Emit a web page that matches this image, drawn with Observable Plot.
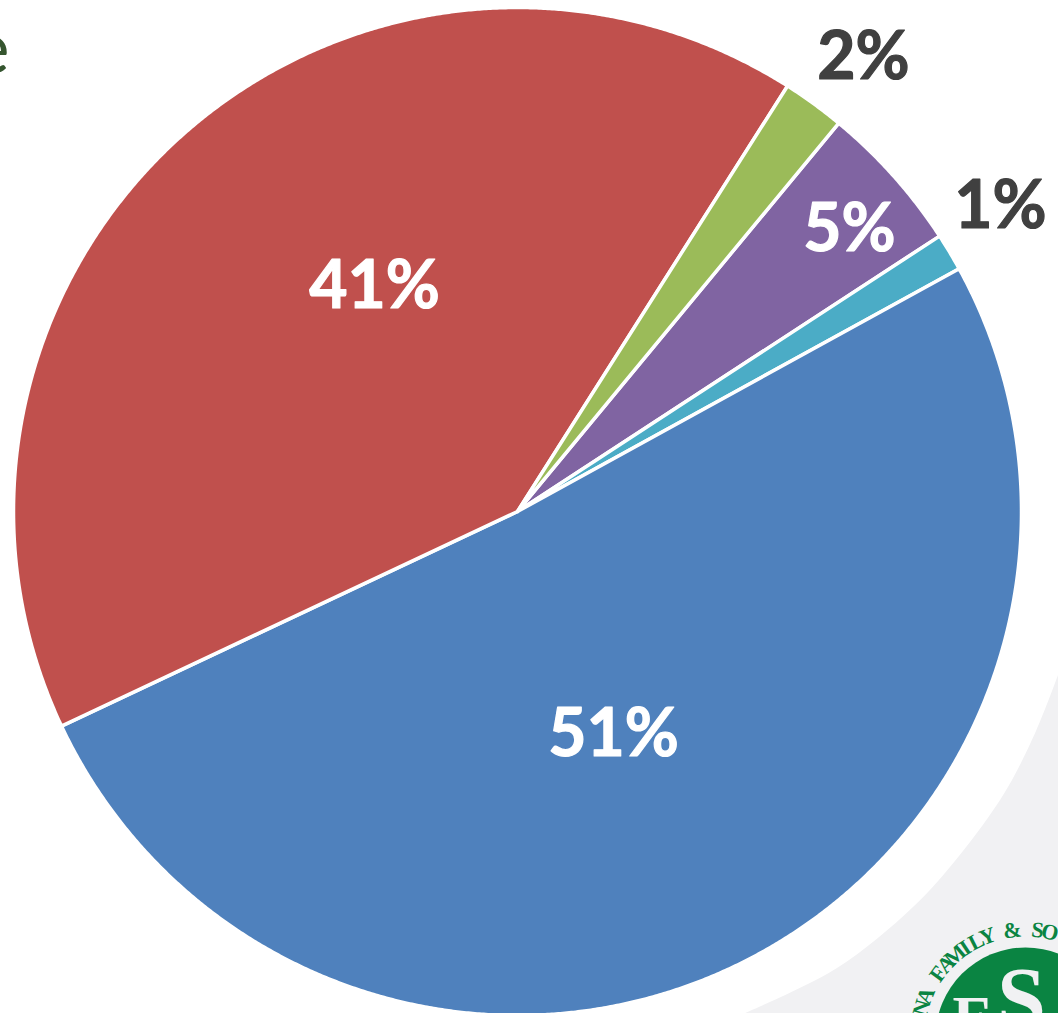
<!DOCTYPE html>
<html><head><meta charset="utf-8">
<script src="https://cdn.jsdelivr.net/npm/d3@7"></script>
<script src="https://cdn.jsdelivr.net/npm/@observablehq/plot@0.6"></script>
<style>html,body{margin:0;padding:0;background:#fff;overflow:hidden}svg{display:block}</style>
</head><body><div id="chart"></div>
<script>
// Data, clockwise from 12 o'clock, starting at the angle
const categories = ["Slice E","Slice F","Slice A","Slice B","Slice C"];
const shares = [4.8, 1.2, 51.0, 41.0, 2.0];
const labels = ["5%","1%","51%","41%","2%"];
const colors = ["#8064a2","#4bacc6","#4f81bd","#c0504d","#9bbb59"];
const startAngle = 39.6;

// Layout in the picture's own unit
const centre = [517, 511], radius = 504;
const labelX = [849, 1000, 613, 374, 863];
const labelY = [229, 206, 734, 286, 57];
const labelFill = ["#fff","#404040","#fff","#fff","#404040"];

// Decoration behind the chart
const bgX = [745, 837, 913, 959, 1005, 1036, 1058];
const bgY = [1013, 968, 907, 856, 792, 731, 675];
const logoLetters = "NA FAMILY & SO";
const logoCentre = [1025, 1037];

const rad = d => d * Math.PI / 180;
const polar = (a, r) => [centre[0] + r * Math.sin(rad(a)), centre[1] - r * Math.cos(rad(a))];

const pieRows = [];
let acc = startAngle;
categories.forEach((c, i) => {
  const span = shares[i] * 3.6;
  const pts = [centre];
  const n = Math.max(2, Math.ceil(span * 4));
  for (let k = 0; k <= n; k++) pts.push(polar(acc + span * k / n, radius));
  pts.push(centre);
  pts.forEach(p => pieRows.push({category: c, x: p[0], y: p[1]}));
  acc += span;
});

const labelRows = labels.map((t, i) => ({t, x: labelX[i], y: labelY[i], fill: labelFill[i]}));
const bgRows = bgX.map((x, i) => ({x, y: bgY[i]}));
const letterRows = [...logoLetters].map((ch, i) => {
  const a = -74 + 6.7 * i;
  return {ch, a, x: logoCentre[0] + 108 * Math.sin(rad(a)), y: logoCentre[1] - 108 * Math.cos(rad(a))};
}).filter(d => d.ch !== " ");

const plot = Plot.plot({
  width: 1058, height: 1013, margin: 0,
  x: {domain: [0, 1058], axis: null},
  y: {domain: [1013, 0], axis: null},
  color: {domain: categories, range: colors},
  marks: [
    Plot.areaY(bgRows, {x: "x", y1: () => 1013, y2: "y", fill: "#f1f1f3", curve: "catmull-rom"}),
    Plot.dot([logoCentre], {x: d => d[0], y: d => d[1], r: 90, fill: "#0a8442"}),
    Plot.text(["F"], {x: () => 952, y: () => 1037, text: d => d, textAnchor: "start", lineAnchor: "bottom", fontFamily: "Liberation Serif", fontWeight: "bold", fontSize: 62, fill: "#f1f1f3"}),
    Plot.text(["S"], {x: () => 1021, y: () => 1027, text: d => d, lineAnchor: "bottom", fontFamily: "Liberation Serif", fontWeight: "bold", fontSize: 88, fill: "#f1f1f3"}),
    Plot.text(letterRows, {x: "x", y: "y", text: "ch", rotate: "a", fontFamily: "Liberation Serif", fontWeight: "bold", fontSize: 22, fill: "#0a8442"}),
    Plot.text(["e"], {x: () => 9, y: () => 49, text: d => d, textAnchor: "end", fontFamily: "Lato", fontSize: 72, fill: "#35552f"}),
    Plot.line(pieRows, {x: "x", y: "y", z: "category", fill: "category", stroke: "#fff", strokeWidth: 3.5, strokeLinejoin: "round", curve: "linear"}),
    Plot.text(labelRows, {x: "x", y: "y", text: "t", fill: "fill", stroke: "fill", strokeWidth: 1.2, fontFamily: "Lato", fontWeight: "bold", fontSize: 66})
  ]
});
document.getElementById("chart").append(plot);
</script></body></html>
